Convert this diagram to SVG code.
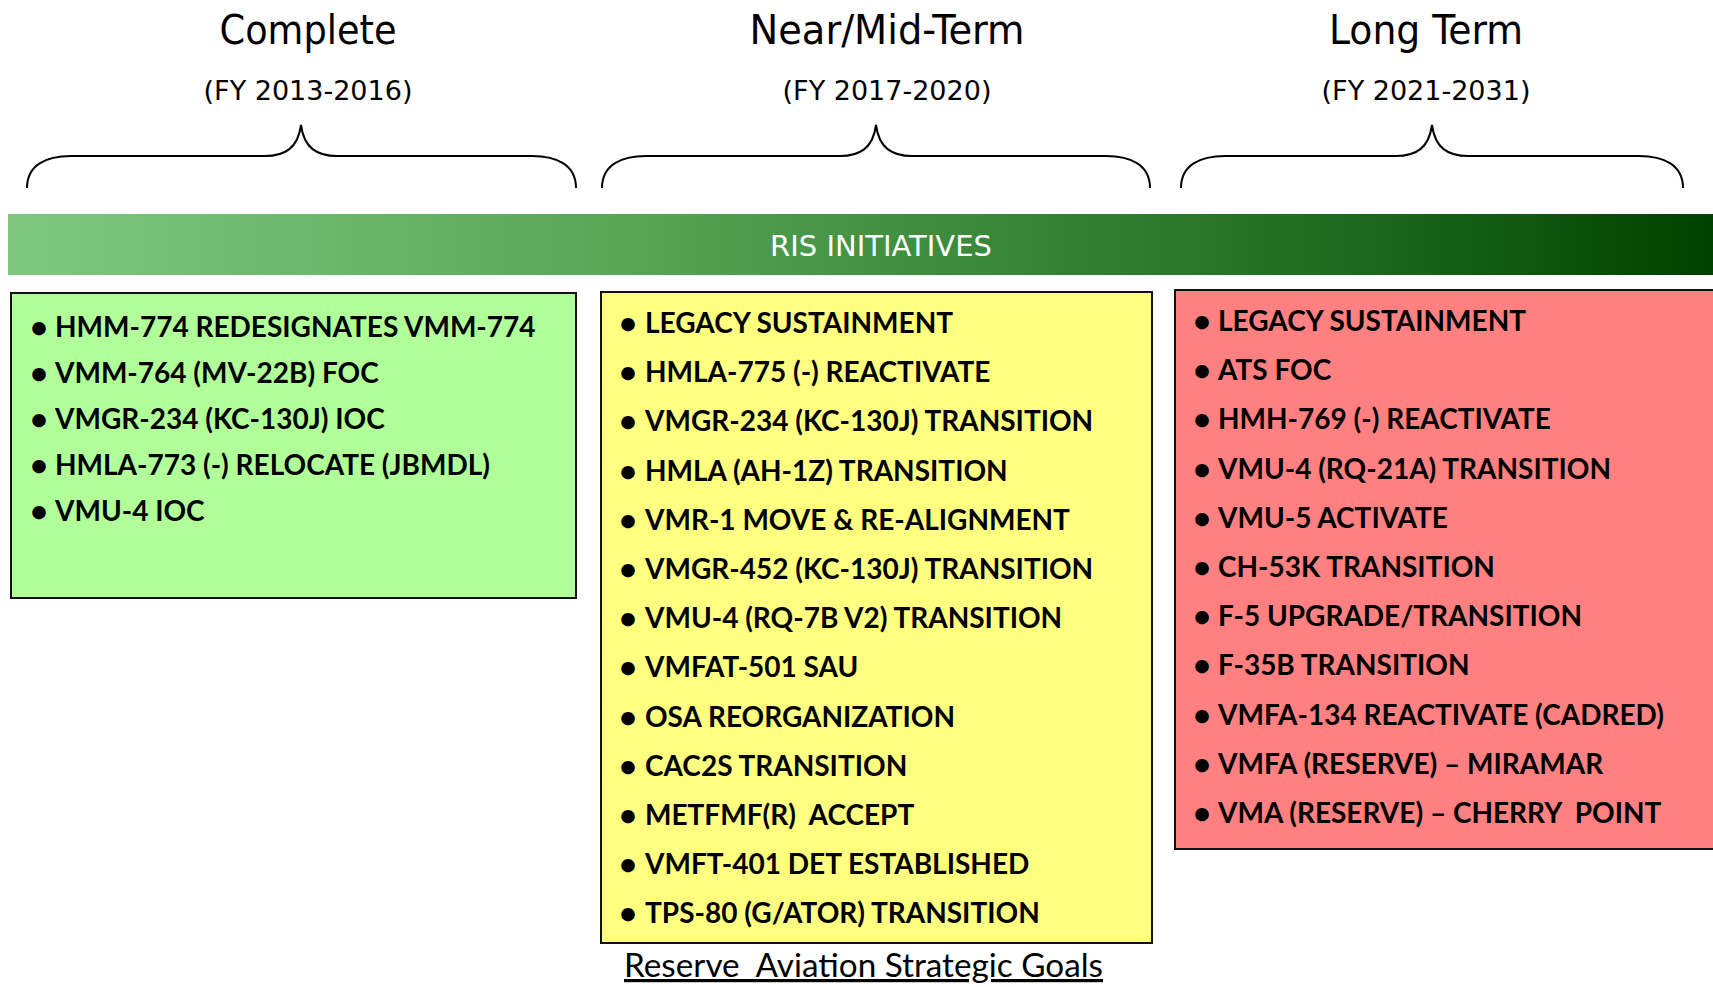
<svg xmlns="http://www.w3.org/2000/svg" width="1713" height="987" viewBox="0 0 1713 987">
<defs>
<linearGradient id="barGrad" x1="0" y1="0" x2="1" y2="0">
<stop offset="0" stop-color="#80c880"/>
<stop offset="0.35" stop-color="#58a858"/>
<stop offset="0.68" stop-color="#2b7a2b"/>
<stop offset="0.85" stop-color="#155f15"/>
<stop offset="1" stop-color="#004000"/>
</linearGradient>
<style>
.hdr{font-family:"DejaVu Sans Condensed","DejaVu Sans",sans-serif;font-size:41px;fill:#000;text-anchor:middle}
.sub{font-family:"DejaVu Sans",sans-serif;font-size:27px;fill:#000;text-anchor:middle}
.brace{fill:none;stroke:#000;stroke-width:2}
.box{stroke:#111;stroke-width:2}
.item{font-family:Lato,"Liberation Sans",sans-serif;font-weight:700;font-size:28px;fill:#000}
.bul{font-size:31px}
.bar{font-family:"DejaVu Sans",sans-serif;font-size:29px;fill:#fff;text-anchor:middle}
.cap{font-family:Lato,"Liberation Sans",sans-serif;font-size:32px;fill:#000;text-decoration:underline}
</style>
</defs>
<rect width="1713" height="987" fill="#fff"/>

<g id="header-complete">
<text class="hdr" x="308" y="44" textLength="177" lengthAdjust="spacingAndGlyphs">Complete</text>
<text class="sub" x="308" y="100">(FY 2013-2016)</text>
</g>
<g id="header-near">
<text class="hdr" x="887" y="44" textLength="275" lengthAdjust="spacingAndGlyphs">Near/Mid-Term</text>
<text class="sub" x="887" y="100">(FY 2017-2020)</text>
</g>
<g id="header-long">
<text class="hdr" x="1426" y="44" textLength="194" lengthAdjust="spacingAndGlyphs">Long Term</text>
<text class="sub" x="1426" y="100">(FY 2021-2031)</text>
</g>

<g id="braces">
<path class="brace" d="M27,188 C27,165 46,156 71,156 L265,156 C285,156 298,148 301,125 C304,148 317,156 337,156 L532,156 C557,156 576,165 576,188"/>
<path class="brace" d="M602,188 C602,165 621,156 646,156 L840,156 C860,156 873,148 876,125 C879,148 892,156 912,156 L1106,156 C1131,156 1150,165 1150,188"/>
<path class="brace" d="M1181,188 C1181,165 1200,156 1225,156 L1396,156 C1416,156 1429,148 1432,125 C1435,148 1448,156 1468,156 L1639,156 C1664,156 1683,165 1683,188"/>
</g>

<g id="ris-bar">
<rect x="8" y="214" width="1705" height="61" fill="url(#barGrad)"/>
<text class="bar" x="881" y="256">RIS INITIATIVES</text>
</g>

<g id="box-complete">
<rect class="box" x="11" y="293" width="565" height="305" fill="#b1ff99"/>
<text class="item"><tspan class="bul" x="30" y="338">•</tspan><tspan x="55" y="337">HMM-774 REDESIGNATES VMM-774</tspan></text>
<text class="item"><tspan class="bul" x="30" y="384">•</tspan><tspan x="55" y="383">VMM-764 (MV-22B) FOC</tspan></text>
<text class="item"><tspan class="bul" x="30" y="430">•</tspan><tspan x="55" y="429">VMGR-234 (KC-130J) IOC</tspan></text>
<text class="item"><tspan class="bul" x="30" y="476">•</tspan><tspan x="55" y="475">HMLA-773 (-) RELOCATE (JBMDL)</tspan></text>
<text class="item"><tspan class="bul" x="30" y="522">•</tspan><tspan x="55" y="521">VMU-4 IOC</tspan></text>
</g>

<g id="box-near">
<rect class="box" x="601" y="292" width="551" height="651" fill="#ffff80"/>
<text class="item"><tspan class="bul" x="619" y="334">•</tspan><tspan x="645" y="333">LEGACY SUSTAINMENT</tspan></text>
<text class="item"><tspan class="bul" x="619" y="383">•</tspan><tspan x="645" y="382">HMLA-775 (-) REACTIVATE</tspan></text>
<text class="item"><tspan class="bul" x="619" y="432">•</tspan><tspan x="645" y="431">VMGR-234 (KC-130J) TRANSITION</tspan></text>
<text class="item"><tspan class="bul" x="619" y="482">•</tspan><tspan x="645" y="481">HMLA (AH-1Z) TRANSITION</tspan></text>
<text class="item"><tspan class="bul" x="619" y="531">•</tspan><tspan x="645" y="530">VMR-1 MOVE &amp; RE-ALIGNMENT</tspan></text>
<text class="item"><tspan class="bul" x="619" y="580">•</tspan><tspan x="645" y="579">VMGR-452 (KC-130J) TRANSITION</tspan></text>
<text class="item"><tspan class="bul" x="619" y="629">•</tspan><tspan x="645" y="628">VMU-4 (RQ-7B V2) TRANSITION</tspan></text>
<text class="item"><tspan class="bul" x="619" y="678">•</tspan><tspan x="645" y="677">VMFAT-501 SAU</tspan></text>
<text class="item"><tspan class="bul" x="619" y="728">•</tspan><tspan x="645" y="727">OSA REORGANIZATION</tspan></text>
<text class="item"><tspan class="bul" x="619" y="777">•</tspan><tspan x="645" y="776">CAC2S TRANSITION</tspan></text>
<text class="item" xml:space="preserve"><tspan class="bul" x="619" y="826">•</tspan><tspan x="645" y="825">METFMF(R)  ACCEPT</tspan></text>
<text class="item"><tspan class="bul" x="619" y="875">•</tspan><tspan x="645" y="874">VMFT-401 DET ESTABLISHED</tspan></text>
<text class="item"><tspan class="bul" x="619" y="924">•</tspan><tspan x="645" y="923">TPS-80 (G/ATOR) TRANSITION</tspan></text>
</g>

<g id="box-long">
<rect class="box" x="1175" y="290" width="560" height="559" fill="#ff8080"/>
<text class="item"><tspan class="bul" x="1193" y="332">•</tspan><tspan x="1218" y="331">LEGACY SUSTAINMENT</tspan></text>
<text class="item"><tspan class="bul" x="1193" y="381">•</tspan><tspan x="1218" y="380">ATS FOC</tspan></text>
<text class="item"><tspan class="bul" x="1193" y="430">•</tspan><tspan x="1218" y="429">HMH-769 (-) REACTIVATE</tspan></text>
<text class="item"><tspan class="bul" x="1193" y="480">•</tspan><tspan x="1218" y="479">VMU-4 (RQ-21A) TRANSITION</tspan></text>
<text class="item"><tspan class="bul" x="1193" y="529">•</tspan><tspan x="1218" y="528">VMU-5 ACTIVATE</tspan></text>
<text class="item"><tspan class="bul" x="1193" y="578">•</tspan><tspan x="1218" y="577">CH-53K TRANSITION</tspan></text>
<text class="item"><tspan class="bul" x="1193" y="627">•</tspan><tspan x="1218" y="626">F-5 UPGRADE/TRANSITION</tspan></text>
<text class="item"><tspan class="bul" x="1193" y="676">•</tspan><tspan x="1218" y="675">F-35B TRANSITION</tspan></text>
<text class="item"><tspan class="bul" x="1193" y="726">•</tspan><tspan x="1218" y="725">VMFA-134 REACTIVATE (CADRED)</tspan></text>
<text class="item"><tspan class="bul" x="1193" y="775">•</tspan><tspan x="1218" y="774">VMFA (RESERVE) – MIRAMAR</tspan></text>
<text class="item" xml:space="preserve"><tspan class="bul" x="1193" y="824">•</tspan><tspan x="1218" y="823">VMA (RESERVE) – CHERRY  POINT</tspan></text>
</g>

<g id="caption">
<text class="cap" x="624" y="977" textLength="479" lengthAdjust="spacingAndGlyphs" xml:space="preserve">Reserve  Aviation Strategic Goals</text>
</g>
</svg>
